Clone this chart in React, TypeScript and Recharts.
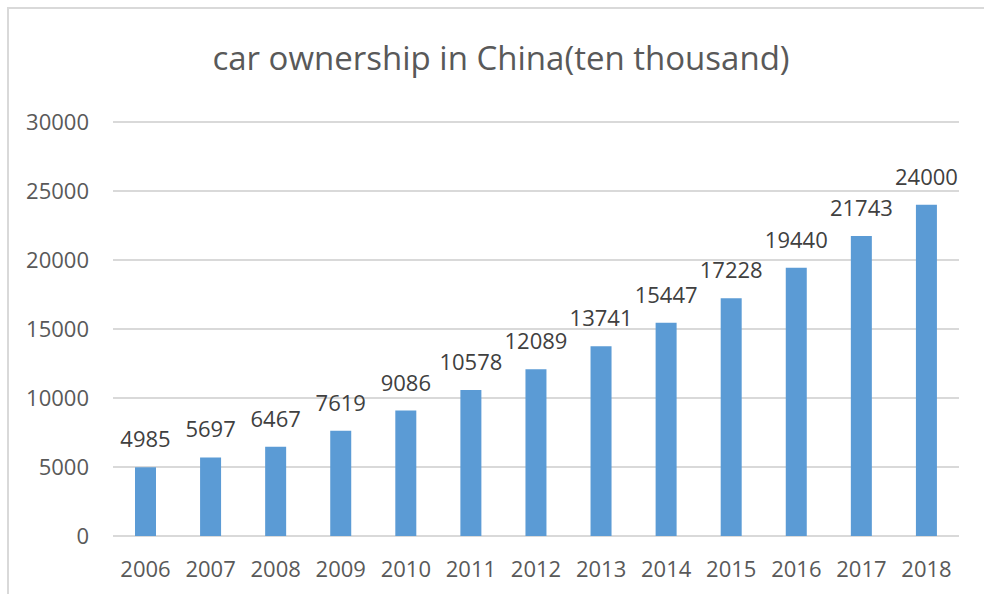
import React from "react";
import { Bar, BarChart, CartesianGrid, LabelList, XAxis, YAxis } from "recharts";

const years = ["2006", "2007", "2008", "2009", "2010", "2011", "2012", "2013", "2014", "2015", "2016", "2017", "2018"];
const ownership = [4985, 5697, 6467, 7619, 9086, 10578, 12089, 13741, 15447, 17228, 19440, 21743, 24000];
const yTicks = [0, 5000, 10000, 15000, 20000, 25000, 30000];

const data = years.map((year, i) => ({ year, value: ownership[i] }));

const font = "'Open Sans', sans-serif";

export default function App() {
    return (
        <div style={{ position: "relative", width: 984, height: 594, background: "#fff", fontFamily: font }}>
            <style>{`body{margin:0}`}</style>
            {/* chart frame: only top and left edges show in the crop */}
            <div
                style={{
                    position: "absolute",
                    left: 7,
                    top: 7,
                    right: 0,
                    bottom: 0,
                    borderTop: "2px solid #d9d9d9",
                    borderLeft: "2px solid #d9d9d9"
                }}
            />
            <div
                style={{
                    position: "absolute",
                    left: 0,
                    top: 35,
                    width: 1002,
                    textAlign: "center",
                    fontSize: 33,
                    color: "#595959",
                    fontFamily: font
                }}
            >
                car ownership in China(ten thousand)
            </div>
            <div style={{ position: "absolute", left: 0, top: 0 }}>
                <BarChart
                    width={984}
                    height={594}
                    data={data}
                    margin={{ top: 122, right: 25, bottom: 28, left: 13 }}
                >
                    <CartesianGrid vertical={false} stroke="#d9d9d9" strokeWidth={2} />
                    <XAxis
                        dataKey="year"
                        axisLine={false}
                        tickLine={false}
                        tickSize={0}
                        tickMargin={25}
                        tick={{ fill: "#595959", fontSize: 22, fontFamily: font }}
                        interval={0}
                    />
                    <YAxis
                        width={100}
                        domain={[0, 30000]}
                        ticks={yTicks}
                        axisLine={false}
                        tickLine={false}
                        tickSize={0}
                        tickMargin={24}
                        tick={{ fill: "#595959", fontSize: 22, fontFamily: font }}
                    />
                    <Bar dataKey="value" fill="#5b9bd5" barSize={21} isAnimationActive={false}>
                        <LabelList
                            dataKey="value"
                            position="top"
                            offset={20}
                            fill="#404040"
                            fontSize={22}
                            fontFamily={font}
                        />
                    </Bar>
                </BarChart>
            </div>
        </div>
    );
}
